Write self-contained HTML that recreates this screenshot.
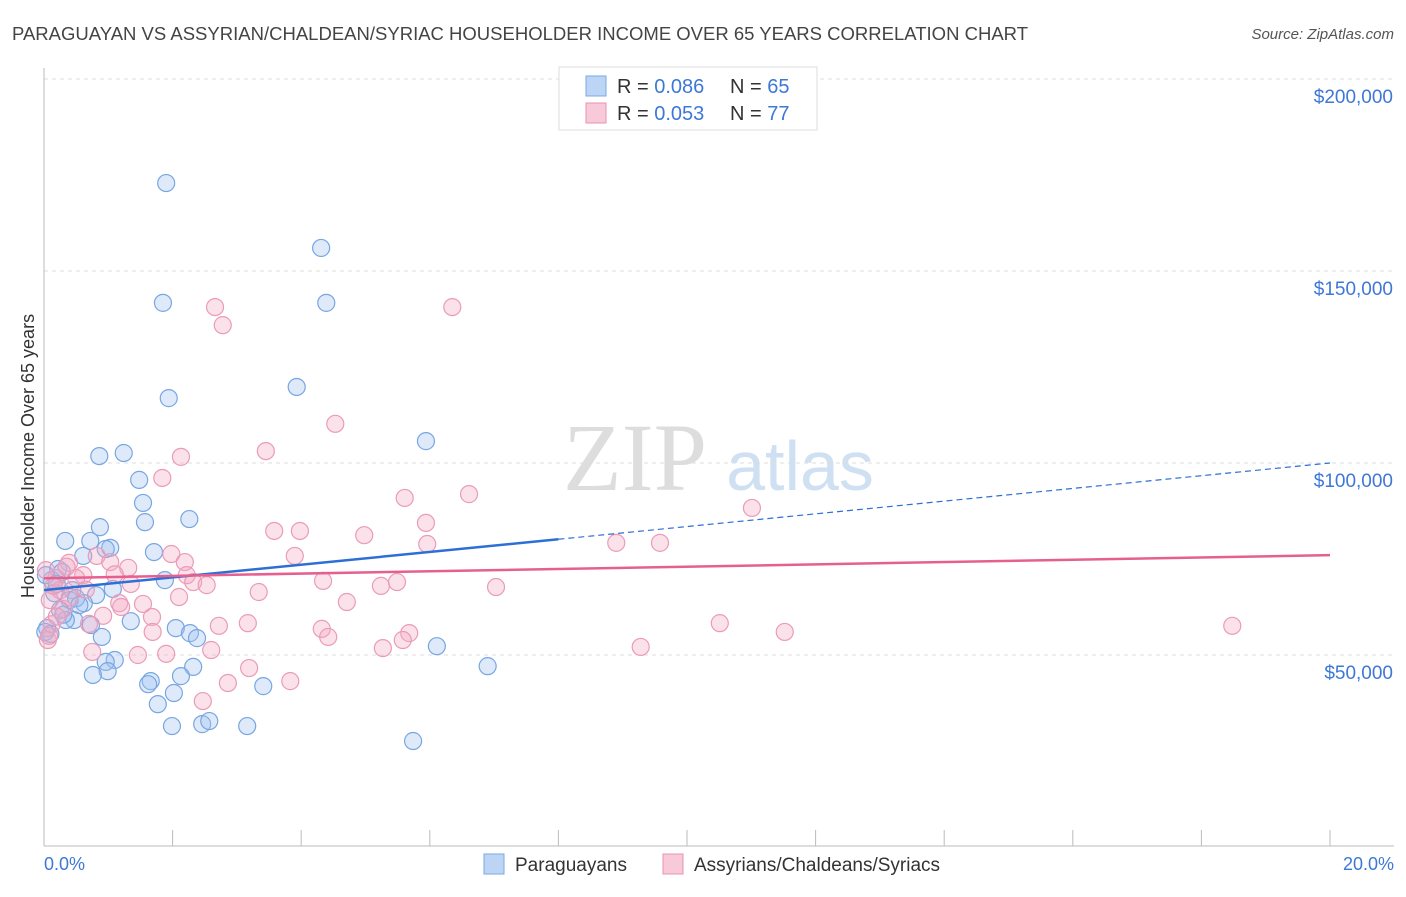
<!DOCTYPE html>
<html><head><meta charset="utf-8"><style>
body{margin:0;background:#fff;font-family:"Liberation Sans",sans-serif;}
</style></head><body>
<svg width="1406" height="892" xmlns="http://www.w3.org/2000/svg" font-family="Liberation Sans, sans-serif">
<text x="12" y="40" font-size="18.5" fill="#444" textLength="1016">PARAGUAYAN VS ASSYRIAN/CHALDEAN/SYRIAC HOUSEHOLDER INCOME OVER 65 YEARS CORRELATION CHART</text>
<text x="1394" y="39" font-size="15" fill="#555" text-anchor="end" font-style="italic">Source: ZipAtlas.com</text>
<g>
<text x="635" y="490" font-size="96" fill="#ddd" font-family="Liberation Serif, serif" text-anchor="middle">ZIP</text>
<text x="800" y="490" font-size="70" fill="#cfe0f3" text-anchor="middle">atlas</text>
</g>
<g id="grid"></g>
<g id="axes"></g>
<g id="pts"></g>
<g id="trend"></g>
<text transform="translate(34,456) rotate(-90)" font-size="18" fill="#333" text-anchor="middle">Householder Income Over 65 years</text>
<text x="44" y="870" font-size="18" fill="#3d78d6">0.0%</text>
<text x="1394" y="870" font-size="18" fill="#3d78d6" text-anchor="end">20.0%</text>
<g>
<rect x="559" y="67" width="258" height="63" fill="#fff" stroke="#ddd"/>
<rect x="586" y="76" width="20" height="20" fill="#bcd5f5" stroke="#7aaae6"/>
<rect x="586" y="103" width="20" height="20" fill="#f8c9d9" stroke="#e893b3"/>
<text x="617" y="93" font-size="20" fill="#333">R = <tspan fill="#3d78d6">0.086</tspan></text>
<text x="730" y="93" font-size="20" fill="#333">N = <tspan fill="#3d78d6">65</tspan></text>
<text x="617" y="120" font-size="20" fill="#333">R = <tspan fill="#3d78d6">0.053</tspan></text>
<text x="730" y="120" font-size="20" fill="#333">N = <tspan fill="#3d78d6">77</tspan></text>
</g>
<g>
<rect x="484" y="854" width="20" height="20" fill="#bcd5f5" stroke="#7aaae6"/>
<text x="515" y="871" font-size="19" fill="#333">Paraguayans</text>
<rect x="663" y="854" width="20" height="20" fill="#f8c9d9" stroke="#e893b3"/>
<text x="694" y="871" font-size="19" fill="#333">Assyrians/Chaldeans/Syriacs</text>
</g>
</svg>
<script>
const yTicks=[50000,100000,150000,200000];
const yTickLabels=["$50,000","$100,000","$150,000","$200,000"];
const blueX=[1.9,4.31,1.85,4.39,3.93,1.94,5.94,0.86,1.24,1.48,1.54,1.57,2.26,0.87,0.33,0.72,1.03,0.96,1.71,0.61,1.88,0.22,0.12,0.28,0.44,0.81,1.07,0.62,0.40,0.25,0.5,1.35,0.47,0.73,0.9,2.05,2.27,2.38,1.1,0.96,0.99,0.76,2.32,2.13,1.66,1.62,3.41,2.02,1.77,1.99,2.46,2.57,3.16,5.74,6.11,6.9,0.05,0.03,0.16,0.34,0.1,0.2,0.55,0.3,0.02];
const blueY=[172.9,156,141.7,141.7,119.8,116.9,105.7,101.8,102.6,95.6,89.6,84.6,85.4,83.3,79.7,79.7,77.9,77.6,76.8,75.8,69.5,72.4,69.5,71.6,66.9,65.6,67.2,63.5,64.3,61.7,64.8,58.8,59.1,57.8,54.7,57.0,55.7,54.4,48.7,48.2,45.8,44.8,46.9,44.5,43.2,42.4,41.9,40.1,37.2,31.5,32.0,32.8,31.5,27.6,52.3,47.1,57.0,70.8,66.1,59.1,55.5,68.5,63,60.5,56];
const pinkX=[2.66,6.35,2.78,4.53,2.13,3.45,1.84,6.61,5.61,11.01,5.94,3.58,3.98,4.98,5.96,8.90,9.58,3.90,1.98,2.19,0.82,0.39,1.03,1.31,2.22,0.61,0.19,1.35,2.32,2.53,4.34,5.24,5.49,7.03,3.34,2.1,1.17,1.54,1.2,4.71,1.68,0.92,3.17,2.72,0.7,10.51,11.52,18.48,4.32,1.69,4.42,5.68,5.58,5.27,2.6,9.28,0.75,1.46,1.9,3.19,2.86,3.83,2.47,0.09,0.03,0.25,0.06,0.15,0.3,0.5,0.12,0.2,0.4,0.08,0.65,1.1,0.35];
const pinkY=[140.6,140.6,135.9,110.2,101.6,103.1,96.1,91.9,90.9,88.3,84.4,82.3,82.3,81.2,78.9,79.2,79.2,75.8,76.3,74.2,75.8,74.0,74.2,72.7,70.8,70.8,70.0,68.5,69.0,68.2,69.3,68.0,69.0,67.7,66.4,65.1,63.5,63.3,62.5,63.8,59.9,60.2,58.3,57.6,58.1,58.3,56.0,57.6,56.8,56.0,54.7,55.7,53.9,51.8,51.3,52.1,50.8,50.0,50.3,46.6,42.7,43.2,38.0,64.3,72.1,66.9,53.9,68,62,70,58,60,65,55,67,71,73];
const blueTrend=[66.9,100];
const pinkTrend=[70,76];
const NS="http://www.w3.org/2000/svg";
const X=v=>44+v*64.3;
const Y=v=>847-v*192/50000;
function mk(tag,attrs,parent){const e=document.createElementNS(NS,tag);for(const k in attrs)e.setAttribute(k,attrs[k]);document.getElementById(parent).appendChild(e);return e;}
yTicks.forEach((t,i)=>{
 const l=mk('line',{x1:44,x2:1394,y1:Y(t),y2:Y(t),stroke:'#ddd','stroke-dasharray':'4,4'},'grid');
 
 
 const tx=mk('text',{x:1393,y:Y(t)+24,'font-size':19,fill:'#3d78d6','text-anchor':'end'},'grid');
 tx.textContent=yTickLabels[i];
 
 
});
const ax=mk('line',{x1:44,x2:44,y1:68,y2:846,stroke:'#bbb'},'axes');


const bx=mk('line',{x1:44,x2:1394,y1:846,y2:846,stroke:'#bbb'},'axes');


for(let i=0;i<=10;i++){const t=mk('line',{x1:X(i*2),x2:X(i*2),y1:830,y2:846,stroke:'#bbb'},'axes');
 
 }
function pts(xs,ys,fill,stroke,name){xs.forEach((x,i)=>{const c=mk('circle',{cx:X(x),cy:Y(ys[i]*1000),r:8.5,fill:fill,stroke:stroke,'stroke-width':1.2},'pts');
 
 });}
pts(blueX,blueY,'rgba(160,196,240,0.35)','#78a6e2','paraguayan-point');
pts(pinkX,pinkY,'rgba(244,170,196,0.35)','#eb9bb8','assyrian-point');
const bl=(v)=>blueTrend[0]+(blueTrend[1]-blueTrend[0])*v/20;
const t1=mk('line',{x1:X(0),y1:Y(bl(0)*1000),x2:X(8),y2:Y(bl(8)*1000),stroke:'#2e6fd6','stroke-width':2.5},'trend');


const t2=mk('line',{x1:X(8),y1:Y(bl(8)*1000),x2:X(20),y2:Y(bl(20)*1000),stroke:'#2e6fd6','stroke-width':1.2,'stroke-dasharray':'6,4'},'trend');


const t3=mk('line',{x1:X(0),y1:Y(pinkTrend[0]*1000),x2:X(20),y2:Y(pinkTrend[1]*1000),stroke:'#e6608f','stroke-width':2.5},'trend');


</script>
</body></html>
